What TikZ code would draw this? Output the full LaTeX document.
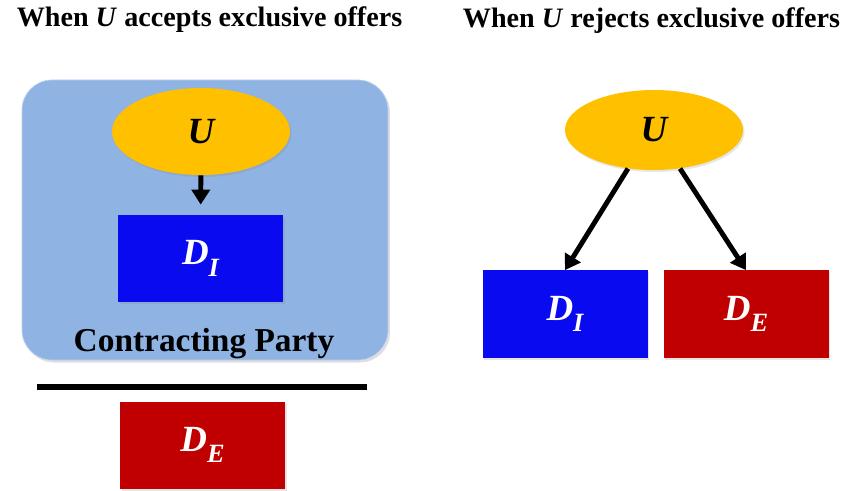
\documentclass[tikz,border=0pt]{standalone}
\usepackage{fontspec}
\setmainfont{Liberation Serif}
\usetikzlibrary{arrows.meta,shapes.geometric,shadows}

\definecolor{partyblue}{RGB}{143,179,226}
\definecolor{ugold}{RGB}{255,192,0}
\definecolor{incblue}{RGB}{10,10,240}
\definecolor{entred}{RGB}{192,0,0}

% firm label with a large, lowered subscript
\newcommand{\firmname}[1]{D\raisebox{-0.32em}{\fontsize{15}{18}\selectfont #1}}

\tikzset{
  heading/.style={anchor=base, font=\fontsize{16}{19}\selectfont\bfseries},
  partybox/.style={fill=partyblue, draw=partyblue!60!white, rounded corners=0.6cm,
    minimum width=7.32cm, minimum height=5.6cm,
    drop shadow={opacity=0.25, shadow xshift=0.04cm, shadow yshift=-0.05cm}},
  upstream/.style={ellipse, fill=ugold, inner sep=0pt,
    minimum width=3.56cm, minimum height=1.74cm,
    drop shadow={opacity=0.2, shadow xshift=0.03cm, shadow yshift=-0.04cm},
    font=\fontsize{21}{24}\selectfont\bfseries\itshape},
  firm/.style={minimum width=3.3cm, minimum height=1.74cm, text=white,
    drop shadow={opacity=0.2, shadow xshift=0.03cm, shadow yshift=-0.04cm},
    font=\fontsize{21}{24}\selectfont\bfseries\itshape},
  link/.style={line width=2.8pt, -{Triangle[width=0.36cm,length=0.3cm]}}
}

\begin{document}
\begin{tikzpicture}
    \useasboundingbox (0,0) rectangle (17,-9.82);

    % Headings
    \node[heading] (headA) at (4.19,-0.54) {When \textit{U} accepts exclusive offers};
    \node[heading] (headB) at (13.03,-0.56) {When \textit{U} rejects exclusive offers};

    % Left case: U and D_I form the contracting party
    \node[partybox] (party) at (4.1,-4.4) {};
    \node[upstream] (uL) at (4.02,-2.63) {U};
    \node[firm, fill=incblue] (diL) at (4.01,-5.17) {\firmname{I}};
    \node[anchor=base, font=\fontsize{19}{22}\selectfont\bfseries] (partyname) at (4.08,-7.04) {Contracting Party};
    \draw[link, shorten >=0.2cm] (uL) -- (diL);

    % Separator and the excluded entrant
    \coordinate (barL) at (0.74,-7.74);
    \coordinate (barR) at (7.34,-7.74);
    \draw[line width=3.4pt] (barL) -- (barR);
    \node[firm, fill=entred] (deL) at (4.05,-8.9) {\firmname{E}};

    % Right case: U deals with both
    \node[upstream, minimum height=1.6cm] (uR) at (13.08,-2.6) {U};
    \node[firm, fill=incblue] (diR) at (11.3,-6.28) {\firmname{I}};
    \node[firm, fill=entred] (deR) at (14.92,-6.28) {\firmname{E}};
    \draw[link] (uR.-124) -- (diR.north);
    \draw[link] (uR.-56) -- (deR.north);

\end{tikzpicture}
\end{document}
